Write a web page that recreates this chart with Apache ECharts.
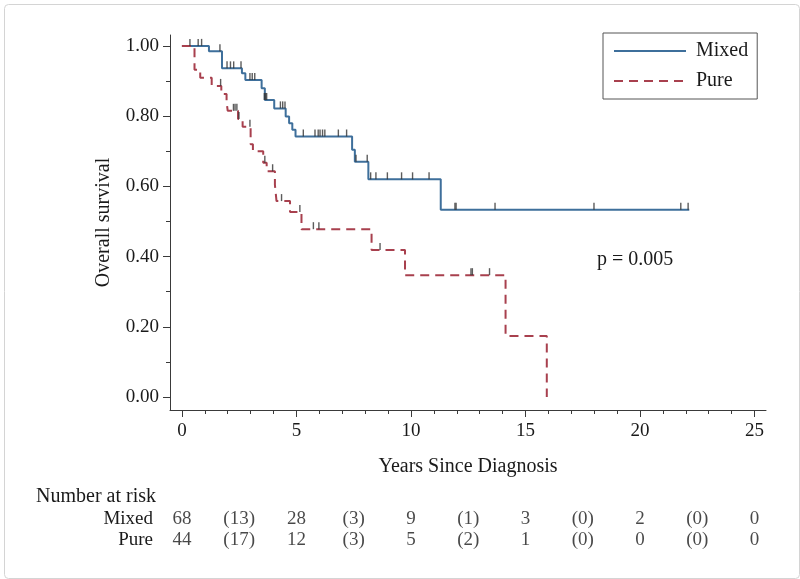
<!DOCTYPE html>
<html>
<head>
<meta charset="utf-8">
<script src="https://cdn.jsdelivr.net/npm/echarts@6/dist/echarts.min.js"></script>
<style>html,body{margin:0;padding:0;background:#fff}#c{width:800px;height:579px}</style>
</head>
<body>
<div id="c"></div>
<script>
// ---- data ----
const seriesNames = ['Mixed', 'Pure'];
// Kaplan-Meier steps: [time (years), survival after event]
const mixedSteps = [[0,1.0],[1.18,0.985],[1.75,0.936],[2.62,0.922],[2.77,0.903],[3.48,0.879],[3.62,0.846],[4.03,0.822],[4.53,0.799],[4.68,0.780],[4.82,0.761],[4.96,0.742],[7.43,0.704],[7.55,0.670],[8.14,0.620],[11.3,0.533],[22.15,0.533]];
const pureSteps = [[0,1.0],[0.55,0.932],[0.8,0.909],[1.3,0.886],[1.72,0.863],[1.95,0.840],[2.0,0.815],[2.45,0.792],[2.65,0.770],[3.0,0.720],[3.1,0.700],[3.55,0.667],[3.7,0.643],[4.06,0.604],[4.13,0.558],[4.72,0.527],[5.22,0.478],[8.28,0.419],[9.74,0.347],[14.13,0.174],[15.93,0.0]];
// censored observations: [time, survival level]
const mixedCensored = [[0.35,1.0],[0.71,1.0],[0.86,1.0],[1.66,0.985],[1.97,0.936],[2.12,0.936],[2.26,0.936],[2.58,0.936],[2.97,0.903],[3.07,0.903],[3.18,0.903],[3.6,0.846],[3.65,0.846],[3.7,0.846],[4.3,0.822],[4.4,0.822],[4.5,0.822],[5.3,0.742],[5.81,0.742],[5.95,0.742],[6.03,0.742],[6.14,0.742],[6.24,0.742],[6.83,0.742],[7.19,0.742],[7.6,0.670],[8.09,0.670],[8.24,0.620],[8.47,0.620],[8.97,0.620],[9.59,0.620],[10.07,0.620],[10.79,0.620],[11.92,0.533],[11.97,0.533],[13.67,0.533],[17.99,0.533],[21.78,0.533],[22.1,0.533]];
const pureCensored = [[1.69,0.886],[2.25,0.815],[2.32,0.815],[2.4,0.815],[2.49,0.792],[2.97,0.770],[3.62,0.667],[3.96,0.643],[4.35,0.558],[5.15,0.527],[5.74,0.478],[5.98,0.478],[8.65,0.419],[12.62,0.347],[12.68,0.347],[13.43,0.347]];
// axis ticks
const xMajorTicks = [0,5,10,15,20,25];
const xMinorTicks = [1,2,3,4,6,7,8,9,11,12,13,14,16,17,18,19,21,22,23,24];
const yMajorTicks = [0,0.2,0.4,0.6,0.8,1.0];
const yMinorTicks = [0.1,0.3,0.5,0.7,0.9];
// number at risk table
const riskTimes = [0,2.5,5,7.5,10,12.5,15,17.5,20,22.5,25];
const mixedRisk = ['68','(13)','28','(3)','9','(1)','3','(0)','2','(0)','0'];
const pureRisk  = ['44','(17)','12','(3)','5','(2)','1','(0)','0','(0)','0'];
const pValueText = 'p = 0.005';

// ---- chart ----
const FONT = 'Liberation Serif';
const FS = 19;     // tick labels, table
const FS2 = 20;    // names, legend, annotations
const TXT = '#1a1a1a';
const AX = '#3a3a3a';
const BLUE = '#3e6f9b';
const RED = '#a8404e';
const XMIN = -0.52, XMAX = 25.5, YMIN = -0.037, YMAX = 1.031;

const chart = echarts.init(document.getElementById('c'), null, {renderer: 'canvas'});
const censorSymbol = {type: 'scatter', symbol: 'rect', symbolSize: [1.4, 7], symbolOffset: [0, -3.5],
  itemStyle: {color: '#333'}, z: 5, silent: true, xAxisIndex: 0, yAxisIndex: 0};

const option = {
  animation: false,
  textStyle: {fontFamily: FONT},
  grid: [
    {left: 170, right: 34, top: 35, bottom: 169, containLabel: false},
    {left: 170, right: 34, top: 509, height: 42, containLabel: false}
  ],
  xAxis: [
    {type: 'value', gridIndex: 0, position: 'bottom', min: XMIN, max: XMAX,
     name: 'Years Since Diagnosis', nameLocation: 'middle', nameGap: 47,
     nameTextStyle: {fontFamily: FONT, fontSize: FS2, color: TXT},
     axisLine: {show: true, onZero: false, lineStyle: {color: AX, width: 1}},
     axisTick: {show: true, length: 7, customValues: xMajorTicks, lineStyle: {color: AX}},
     axisLabel: {customValues: xMajorTicks, margin: 12, fontFamily: FONT, fontSize: FS, color: TXT},
     splitLine: {show: false}},
    {type: 'value', gridIndex: 0, position: 'bottom', min: XMIN, max: XMAX,
     axisLine: {show: false, onZero: false},
     axisTick: {show: true, length: 4, customValues: xMinorTicks, lineStyle: {color: AX}},
     axisLabel: {show: false}, splitLine: {show: false}},
    {type: 'value', gridIndex: 1, min: XMIN, max: XMAX, show: false}
  ],
  yAxis: [
    {type: 'value', gridIndex: 0, position: 'left', min: YMIN, max: YMAX,
     name: 'Overall survival', nameLocation: 'middle', nameGap: 56, nameRotate: 90,
     nameTextStyle: {fontFamily: FONT, fontSize: FS2, color: TXT},
     axisLine: {show: true, onZero: false, lineStyle: {color: AX, width: 1}},
     axisTick: {show: true, length: 7, customValues: yMajorTicks, lineStyle: {color: AX}},
     axisLabel: {customValues: yMajorTicks, margin: 11, fontFamily: FONT, fontSize: FS, color: TXT,
       formatter: v => v.toFixed(2)},
     splitLine: {show: false}},
    {type: 'value', gridIndex: 0, position: 'left', min: YMIN, max: YMAX,
     axisLine: {show: false, onZero: false},
     axisTick: {show: true, length: 4, customValues: yMinorTicks, lineStyle: {color: AX}},
     axisLabel: {show: false}, splitLine: {show: false}},
    {type: 'category', gridIndex: 1, data: seriesNames, inverse: true,
     axisLine: {show: false}, axisTick: {show: false}, splitLine: {show: false},
     axisLabel: {interval: 0, margin: 17, fontFamily: FONT, fontSize: FS, color: TXT}}
  ],
  legend: {
    left: 603, top: 33, orient: 'vertical',
    data: seriesNames,
    itemWidth: 72, itemHeight: 14, itemGap: 10,
    padding: [8, 9, 8, 10],
    borderColor: '#555', borderWidth: 1,
    itemStyle: {opacity: 0},
    textStyle: {fontFamily: FONT, fontSize: FS2, color: TXT, padding: [0, 0, 0, 5]}
  },
  series: [
    {name: 'Mixed', type: 'line', step: 'end', data: mixedSteps, showSymbol: false, symbol: 'none',
     xAxisIndex: 0, yAxisIndex: 0, lineStyle: {color: BLUE, width: 2}, itemStyle: {color: BLUE}, z: 3},
    {name: 'Pure', type: 'line', step: 'end', data: pureSteps, showSymbol: false, symbol: 'none',
     xAxisIndex: 0, yAxisIndex: 0, lineStyle: {color: RED, width: 2, type: [9, 6]}, itemStyle: {color: RED}, z: 3},
    Object.assign({name: 'censorMixed', data: mixedCensored}, censorSymbol),
    Object.assign({name: 'censorPure', data: pureCensored}, censorSymbol),
    {name: 'riskMixed', type: 'scatter', xAxisIndex: 2, yAxisIndex: 2, symbolSize: 0, silent: true,
     data: riskTimes.map((t, i) => [t, 'Mixed', mixedRisk[i]]),
     label: {show: true, position: 'inside', formatter: p => p.value[2], fontFamily: FONT, fontSize: FS, color: TXT}},
    {name: 'riskPure', type: 'scatter', xAxisIndex: 2, yAxisIndex: 2, symbolSize: 0, silent: true,
     data: riskTimes.map((t, i) => [t, 'Pure', pureRisk[i]]),
     label: {show: true, position: 'inside', formatter: p => p.value[2], fontFamily: FONT, fontSize: FS, color: TXT}}
  ],
  graphic: [
    {type: 'rect', left: 2, top: 2, shape: {width: 795, height: 574, r: 4}, style: {fill: 'none', stroke: '#d4d4d4', lineWidth: 1}, silent: true},
    {type: 'text', left: 36, top: 487, style: {text: 'Number at risk', font: FS2 + 'px "Liberation Serif"', fill: TXT}},
    {type: 'text', left: 597, top: 250, style: {text: pValueText, font: FS2 + 'px "Liberation Serif"', fill: TXT}}
  ]
};
chart.setOption(option);
</script>
</body>
</html>
